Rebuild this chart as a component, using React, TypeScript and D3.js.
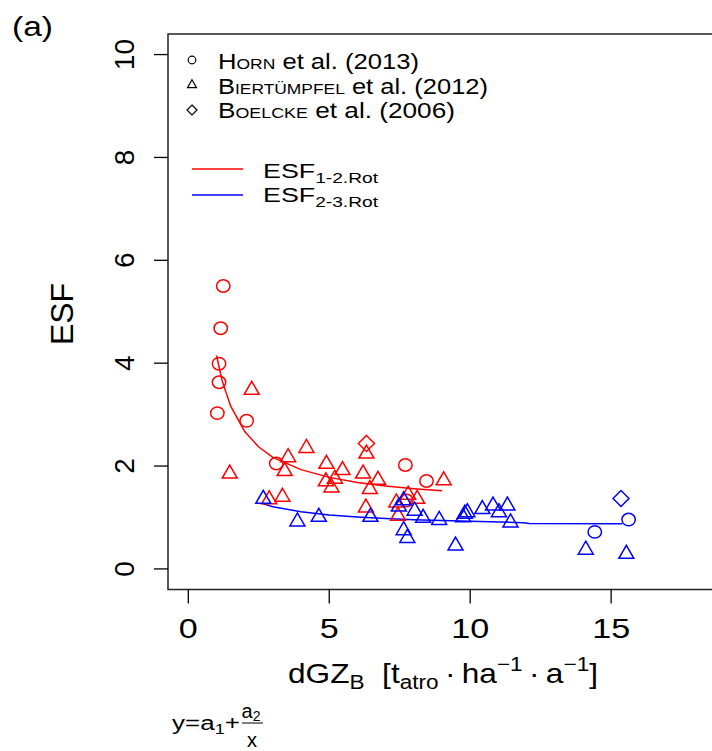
import React from "react";
import * as d3 from "d3";

// Horn et al. (2013) – circles
const hornRedX = [1.24, 1.15, 1.09, 1.09, 1.03, 2.07, 3.12, 7.7, 8.45, 7.74];
const hornRedY = [5.5, 4.68, 3.99, 3.63, 3.03, 2.88, 2.05, 2.02, 1.71, 1.33];
const hornBlueX = [14.42, 15.62];
const hornBlueY = [0.72, 0.96];

// Biertümpfel et al. (2012) – triangles
const biertRedX = [1.47, 2.25, 3.54, 4.19, 3.42, 2.87, 3.34, 4.9, 5.47, 4.88, 5.2, 5.08, 6.2, 6.32, 6.73, 6.44, 6.3, 7.38, 7.44, 7.8, 8.12, 9.06];
const biertRedY = [1.85, 3.48, 2.17, 2.35, 1.9, 1.35, 1.4, 2.04, 1.92, 1.7, 1.75, 1.58, 1.85, 2.24, 1.73, 1.55, 1.19, 1.29, 1.03, 1.44, 1.36, 1.72];
const biertBlueX = [2.66, 3.87, 4.63, 6.46, 7.47, 7.64, 7.64, 7.77, 8.03, 8.33, 8.9, 9.48, 9.81, 9.9, 9.75, 10.43, 10.81, 11.02, 11.32, 11.43, 14.1, 15.54];
const biertBlueY = [1.36, 0.92, 1.01, 1.01, 1.21, 1.33, 0.75, 0.6, 1.13, 0.99, 0.95, 0.45, 1.07, 1.1, 1.0, 1.16, 1.23, 1.1, 1.23, 0.9, 0.37, 0.29];

// Boelcke et al. (2006) – diamonds
const boelckeRedX = [6.32];
const boelckeRedY = [2.44];
const boelckeBlueX = [15.35];
const boelckeBlueY = [1.37];

// fitted lines
const fitRedX = [1.0, 1.2, 1.5, 2.0, 2.5, 3.0, 4.0, 5.0, 6.0, 7.0, 8.0, 9.0];
const fitRedY = [4.15, 3.66, 3.17, 2.67, 2.37, 2.17, 1.93, 1.78, 1.68, 1.61, 1.56, 1.52];
const fitBlueX = [2.64, 3.0, 4.0, 5.0, 6.0, 7.0, 8.0, 9.0, 10.0, 11.9, 12.1, 15.4];
const fitBlueY = [1.27, 1.21, 1.11, 1.05, 1.01, 0.98, 0.955, 0.94, 0.925, 0.9, 0.885, 0.88];

const xTicks = [0, 5, 10, 15];
const yTicks = [0, 2, 4, 6, 8, 10];

const FONT = "'Liberation Sans', Arial, Helvetica, sans-serif";
const RED = "#ff0000";
const BLUE = "#0000ff";
const SX = 1.22; // horizontal text in the original is drawn wide

function zip(xs: number[], ys: number[]): [number, number][] {
  return xs.map((x, i) => [x, ys[i]]);
}

function triPath(s: number) {
  const h = (s * Math.sqrt(3)) / 2;
  return `M0,${(-2 * h) / 3}L${s / 2},${h / 3}L${-s / 2},${h / 3}Z`;
}
function diaPath(r: number) {
  return `M0,${-r}L${r},0L0,${r}L${-r},0Z`;
}

const sc = { fontVariant: "small-caps" } as React.CSSProperties;

export default function App() {
  const x = d3.scaleLinear().domain([-0.72, 18.72]).range([168, 716]);
  const y = d3.scaleLinear().domain([-0.4, 10.4]).range([589.5, 34]);
  const line = d3
    .line<[number, number]>()
    .x((d) => x(d[0]))
    .y((d) => y(d[1]));

  const circles = (xs: number[], ys: number[], c: string) =>
    zip(xs, ys).map((d, i) => (
      <ellipse key={c + "c" + i} cx={x(d[0])} cy={y(d[1])} rx={6.7} ry={6.2} fill="none" stroke={c} strokeWidth={1.5} />
    ));
  const tris = (xs: number[], ys: number[], c: string) =>
    zip(xs, ys).map((d, i) => (
      <path key={c + "t" + i} transform={`translate(${x(d[0])},${y(d[1])})`} d={triPath(15)} fill="none" stroke={c} strokeWidth={1.5} />
    ));
  const dias = (xs: number[], ys: number[], c: string) =>
    zip(xs, ys).map((d, i) => (
      <path key={c + "d" + i} transform={`translate(${x(d[0])},${y(d[1])})`} d={diaPath(8)} fill="none" stroke={c} strokeWidth={1.5} />
    ));

  const [x0, x1] = x.range();
  const [y0, y1] = y.range();

  return (
    <svg width={712} height={751} style={{ position: "absolute", left: 0, top: 0, background: "#fff" }} fontFamily={FONT}>
      <rect x={0} y={0} width={712} height={751} fill="#fff" />
      <text x={12} y={36} fontSize={27} textLength={41} lengthAdjust="spacingAndGlyphs">(a)</text>

      {/* box */}
      <rect x={x0} y={y1} width={x1 - x0} height={y0 - y1} fill="none" stroke="#222" strokeWidth={1.5} />

      {/* x axis */}
      {xTicks.map((t) => (
        <g key={"xt" + t}>
          <line x1={x(t)} x2={x(t)} y1={y0} y2={y0 + 14} stroke="#000" strokeWidth={1.3} />
          <text transform={`translate(${x(t)},${y0 + 48.5}) scale(${SX},1)`} fontSize={28} textAnchor="middle">{t}</text>
        </g>
      ))}
      {/* y axis */}
      {yTicks.map((t) => (
        <g key={"yt" + t}>
          <line x1={x0} x2={x0 - 14} y1={y(t)} y2={y(t)} stroke="#000" strokeWidth={1.3} />
          <text transform={`translate(${x0 - 34},${y(t)}) rotate(-90)`} fontSize={28} textAnchor="middle">{t}</text>
        </g>
      ))}

      <text transform={`translate(73,314) rotate(-90)`} fontSize={32} textAnchor="middle">ESF</text>

      <text x={288} y={683} fontSize={28} textLength={310} lengthAdjust="spacingAndGlyphs">
        dGZ<tspan fontSize={20} dy={6}>B</tspan>
        <tspan dy={-6}>{"\u00a0\u00a0[t"}</tspan>
        <tspan fontSize={20} dy={6}>atro</tspan>
        <tspan dy={-6}>{"\u2009·\u2009ha"}</tspan>
        <tspan fontSize={20} dy={-12}>{"−1"}</tspan>
        <tspan dy={12}>{"\u2009·\u2009a"}</tspan>
        <tspan fontSize={20} dy={-12}>{"−1"}</tspan>
        <tspan dy={12}>]</tspan>
      </text>

      {/* formula */}
      <text x={172} y={730} fontSize={20} textLength={68} lengthAdjust="spacingAndGlyphs">
        y<tspan>=</tspan><tspan>a</tspan><tspan fontSize={14} dy={4}>1</tspan><tspan dy={-4}>+</tspan>
      </text>
      <text x={251} y={718} fontSize={20} textAnchor="middle">
        a<tspan fontSize={14} dy={3}>2</tspan>
      </text>
      <line x1={242} x2={263} y1={723} y2={723} stroke="#000" strokeWidth={1} />
      <text x={252} y={747} fontSize={20} textAnchor="middle">x</text>

      {/* fitted lines */}
      <path d={line(zip(fitRedX, fitRedY)) || ""} fill="none" stroke={RED} strokeWidth={1.5} />
      <path d={line(zip(fitBlueX, fitBlueY)) || ""} fill="none" stroke={BLUE} strokeWidth={1.5} />

      {/* points */}
      {circles(hornRedX, hornRedY, RED)}
      {circles(hornBlueX, hornBlueY, BLUE)}
      {tris(biertRedX, biertRedY, RED)}
      {tris(biertBlueX, biertBlueY, BLUE)}
      {dias(boelckeRedX, boelckeRedY, RED)}
      {dias(boelckeBlueX, boelckeBlueY, BLUE)}

      {/* legend: sources */}
      <g fontSize={22}>
        <circle cx={192} cy={60} r={3.8} fill="none" stroke="#000" strokeWidth={1.2} />
        <text x={218} y={69} textLength={201} lengthAdjust="spacingAndGlyphs"><tspan style={sc}>Horn</tspan> et al. (2013)</text>
        <path transform="translate(192,85)" d={triPath(9)} fill="none" stroke="#000" strokeWidth={1.2} />
        <text x={218} y={94} textLength={270} lengthAdjust="spacingAndGlyphs"><tspan style={sc}>Biertümpfel</tspan> et al. (2012)</text>
        <path transform="translate(192,110)" d={diaPath(5)} fill="none" stroke="#000" strokeWidth={1.2} />
        <text x={218} y={118} textLength={237} lengthAdjust="spacingAndGlyphs"><tspan style={sc}>Boelcke</tspan> et al. (2006)</text>
      </g>

      {/* legend: lines */}
      <line x1={192} x2={243} y1={169} y2={169} stroke={RED} strokeWidth={1.5} />
      <line x1={192} x2={243} y1={195} y2={195} stroke={BLUE} strokeWidth={1.5} />
      <text x={263} y={178} fontSize={21} textLength={115} lengthAdjust="spacingAndGlyphs">
        ESF<tspan fontSize={15} dy={5}>1-2.Rot</tspan>
      </text>
      <text x={263} y={202} fontSize={21} textLength={115} lengthAdjust="spacingAndGlyphs">
        ESF<tspan fontSize={15} dy={5}>2-3.Rot</tspan>
      </text>
    </svg>
  );
}
